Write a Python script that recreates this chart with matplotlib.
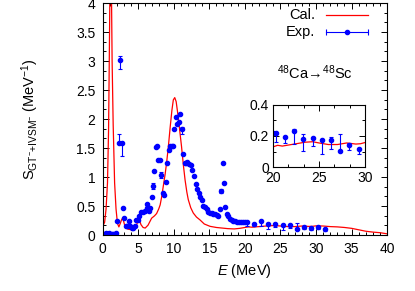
import matplotlib
matplotlib.use('Agg')
import matplotlib.pyplot as plt
from matplotlib.ticker import AutoMinorLocator, MultipleLocator, FormatStrFormatter

plt.rcParams['font.family'] = ['Liberation Sans', 'DejaVu Sans']
plt.rcParams['mathtext.fontset'] = 'custom'
plt.rcParams['mathtext.rm'] = 'Liberation Sans'
plt.rcParams['mathtext.it'] = 'Liberation Sans:italic'
plt.rcParams['font.size'] = 10

# calculated strength (red line)
E_cal = [0.0, 0.3, 0.5, 0.7, 0.85, 0.95, 1.05, 1.15, 1.25, 1.35, 1.5, 1.7, 1.9, 2.1,
         2.3, 2.5, 2.7, 2.85, 3.0, 3.2, 3.6, 4.1, 4.5, 4.8, 5.05, 5.2, 5.4, 5.7, 6.0,
         6.4, 6.9, 7.3, 7.6, 7.9, 8.1, 8.3, 8.55, 8.8, 9.0, 9.25, 9.5, 9.75, 9.95,
         10.15, 10.35, 10.6, 10.85, 11.1, 11.35, 11.6, 11.85, 12.05, 12.4, 12.75,
         13.2, 13.7, 14.3, 15.1, 16.0, 16.8, 17.6, 18.5, 19.3, 20.0, 20.5, 21.0,
         21.5, 22.5, 23.5, 24.3, 25.0, 26.0, 27.0, 28.0, 29.0, 29.5, 30.0, 31.0,
         32.0, 33.0, 34.0, 35.0, 36.0, 37.0, 38.0, 39.0, 40.0]
S_cal = [0.14, 0.22, 0.45, 0.9, 1.8, 3.0, 4.3, 4.8, 4.3, 3.0, 1.9, 0.9, 0.45, 0.2,
         0.14, 0.2, 0.27, 0.29, 0.22, 0.13, 0.1, 0.09, 0.12, 0.18, 0.26, 0.26, 0.18,
         0.13, 0.12, 0.17, 0.29, 0.33, 0.37, 0.45, 0.52, 0.65, 0.85, 1.05, 1.24,
         1.52, 1.85, 2.15, 2.33, 2.37, 2.3, 2.07, 1.8, 1.53, 1.22, 0.95, 0.74, 0.61,
         0.47, 0.38, 0.31, 0.26, 0.19, 0.15, 0.13, 0.12, 0.11, 0.105, 0.115, 0.13,
         0.14, 0.135, 0.14, 0.15, 0.16, 0.163, 0.155, 0.145, 0.145, 0.155, 0.148,
         0.15, 0.158, 0.155, 0.145, 0.14, 0.13, 0.115, 0.09, 0.065, 0.05, 0.04, 0.02]

# experimental strength (blue points)
E_exp = [0.1, 0.3, 0.5, 0.7, 0.9, 1.1, 1.3, 1.5, 1.7, 1.9, 2.08, 2.32, 2.46, 2.69,
         2.83, 3.07, 3.30, 3.49, 3.72, 3.86, 4.10, 4.33, 4.56, 4.71, 4.94, 5.17,
         5.36, 5.64, 5.92, 6.20, 6.30, 6.53, 6.67, 6.91, 7.05, 7.28, 7.47, 7.65,
         7.84, 8.03, 8.26, 8.50, 8.68, 8.87, 9.06, 9.29, 9.48, 9.71, 9.90, 10.09,
         10.32, 10.51, 10.70, 10.88, 11.12, 11.31, 11.54, 11.73, 11.91, 12.15,
         12.38, 12.62, 12.85, 13.09, 13.32, 13.51, 13.74, 13.97, 14.16, 14.40,
         14.63, 14.86, 15.10, 15.33, 15.57, 15.80, 16.04, 16.27, 16.50, 16.69,
         16.88, 17.06, 17.25, 17.49, 17.67, 17.91, 18.15, 18.38, 18.62, 18.85,
         19.13, 19.4, 19.7, 20.0, 20.3, 21.3, 22.3, 23.3, 24.3, 25.3, 26.3, 27.3,
         28.3, 29.3, 30.3, 31.3]
S_exp = [0.01, 0.02, 0.03, 0.02, 0.03, 0.02, 0.01, 0.02, 0.02, 0.03, 0.25, 1.59,
         3.01, 1.58, 0.46, 0.29, 0.16, 0.15, 0.25, 0.15, 0.12, 0.12, 0.15, 0.26,
         0.26, 0.33, 0.39, 0.40, 0.41, 0.46, 0.53, 0.41, 0.46, 0.66, 0.84, 1.11,
         1.52, 1.54, 1.30, 1.29, 1.04, 0.73, 0.69, 0.91, 1.24, 1.47, 1.53, 1.53,
         1.54, 1.83, 2.04, 1.91, 1.95, 2.09, 1.83, 1.40, 1.25, 1.25, 1.26, 1.23,
         1.21, 1.12, 1.01, 0.88, 0.79, 0.73, 0.66, 0.60, 0.50, 0.48, 0.44, 0.40,
         0.38, 0.38, 0.36, 0.36, 0.35, 0.32, 0.44, 0.76, 1.25, 0.89, 0.49, 0.36,
         0.32, 0.28, 0.26, 0.24, 0.24, 0.23, 0.23, 0.23, 0.22, 0.22, 0.22, 0.195,
         0.234, 0.183, 0.19, 0.174, 0.174, 0.103, 0.142, 0.114, 0.13, 0.10]
err_lo = [0] * 11 + [0.0, 0.14, 0.22] + [0] * 20 + [0.05] + [0] * 5 + [0.05] + \
         [0] * 13 + [0.08] + [0] * 24 + [0.04] + [0] * 14 + \
         [0.057, 0.042, 0.086, 0.08, 0.055, 0.09, 0.06, 0.003, 0.032, 0.03, 0.02, 0.03]
err_hi = [0] * 11 + [0.15, 0.07, 0.0] + [0] * 20 + [0.05] + [0] * 5 + [0.05] + \
         [0] * 13 + [0.03] + [0] * 24 + [0.04] + [0] * 14 + \
         [0.008, 0.005, 0.009, 0.027, 0.006, 0.006, 0.022, 0.107, 0.011, 0.006, 0.01, 0.01]

fig = plt.figure(figsize=(4.15, 2.91), dpi=100)
ax = fig.add_axes([0.247, 0.1924, 0.686, 0.797])

ax.plot(E_cal, S_cal, color='red', lw=0.9)
ax.errorbar(E_exp, S_exp, yerr=[err_lo, err_hi], fmt='o', color='blue', ms=3.0,
            elinewidth=0.8, capsize=1.6, capthick=0.8)

ax.set_xlim(0, 40)
ax.set_ylim(0, 4)
ax.xaxis.set_major_locator(MultipleLocator(5))
ax.xaxis.set_minor_locator(AutoMinorLocator(5))
ax.yaxis.set_major_locator(MultipleLocator(0.5))
ax.yaxis.set_minor_locator(AutoMinorLocator(3))
ax.yaxis.set_major_formatter(FormatStrFormatter('%g'))
ax.tick_params(which='both', direction='in', top=True, right=True, width=0.7)
ax.tick_params(which='major', length=4, labelsize=10, pad=5)
ax.tick_params(which='minor', length=2)
for s in ax.spines.values():
    s.set_linewidth(0.8)

ax.set_xlabel(r'$E$ (MeV)', fontsize=10.5, labelpad=4)
ax.set_ylabel(r'$\mathrm{S}_{\mathrm{GT}^{-}\mathrm{+IVSM}^{-}}$ (MeV$^{-1}$)', fontsize=10.5)
ax.yaxis.set_label_coords(-0.215, 0.5)

# legend drawn by hand, gnuplot style
ax.text(0.746, 0.948, 'Cal.', transform=ax.transAxes, ha='right', va='center', fontsize=10.5)
ax.plot([0.784, 0.931], [0.948, 0.948], color='red', lw=0.9, transform=ax.transAxes)
ax.text(0.746, 0.876, 'Exp.', transform=ax.transAxes, ha='right', va='center', fontsize=10.5)
ax.plot([0.784, 0.931], [0.876, 0.876], color='blue', lw=0.8, marker='|', ms=4,
        mew=0.8, transform=ax.transAxes)
ax.plot([0.8575], [0.876], 'o', color='blue', ms=3, transform=ax.transAxes)

ax.text(0.746, 0.698, r'$^{48}$Ca→$^{48}$Sc', transform=ax.transAxes, ha='center',
        va='center', fontsize=10.5)

# inset
ins = fig.add_axes([0.658, 0.4261, 0.2217, 0.2131])
ins.plot(E_cal, S_cal, color='red', lw=0.9)
ins.errorbar(E_exp, S_exp, yerr=[err_lo, err_hi], fmt='o', color='blue', ms=3.0,
             elinewidth=0.8, capsize=1.6, capthick=0.8)
ins.set_xlim(20, 30)
ins.set_ylim(0, 0.4)
ins.xaxis.set_major_locator(MultipleLocator(5))
ins.xaxis.set_minor_locator(AutoMinorLocator(3))
ins.yaxis.set_major_locator(MultipleLocator(0.2))
ins.yaxis.set_minor_locator(AutoMinorLocator(2))
ins.yaxis.set_major_formatter(FormatStrFormatter('%g'))
ins.tick_params(which='both', direction='in', top=True, right=True, width=0.7)
ins.tick_params(which='major', length=4, labelsize=10, pad=3)
ins.tick_params(which='minor', length=2)
for s in ins.spines.values():
    s.set_linewidth(0.8)

fig.savefig('out.png', dpi=100)
